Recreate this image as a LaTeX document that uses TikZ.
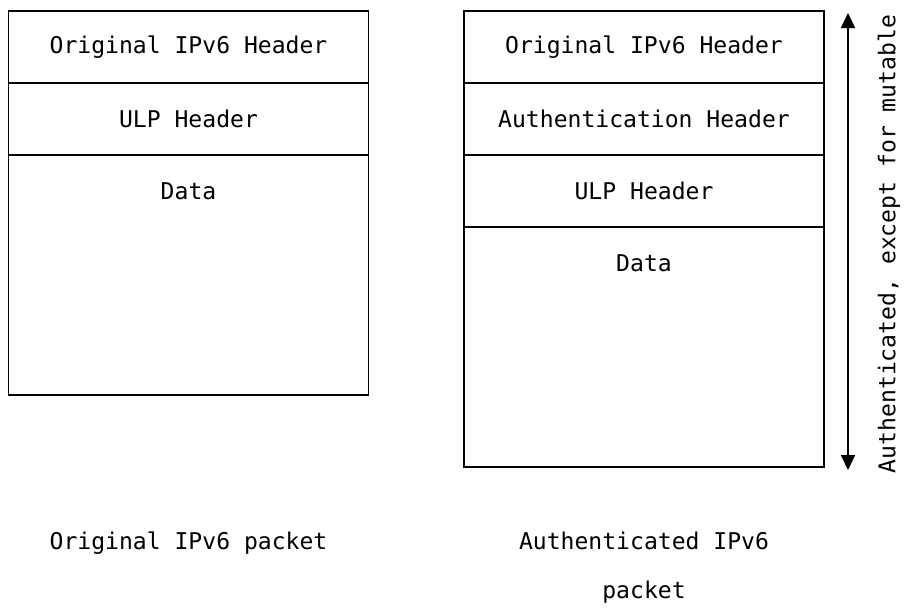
\documentclass[tikz,border=0pt]{standalone}
\usepackage{fontspec}
\setmonofont{DejaVu Sans Mono}
\newcommand{\pktfont}{\ttfamily\fontsize{16.4}{34.7}\selectfont}
\usetikzlibrary{arrows.meta, positioning}
\tikzset{
  cell/.style={draw, line width=1.2pt, minimum width=9cm, minimum height=1.8cm, inner sep=0pt, outer sep=0pt, font=\pktfont},
  databox/.style={cell, minimum height=6cm},
  caption/.style={align=center, font=\pktfont},
  span/.style={{Triangle[length=0.375cm, width=0.35cm]}-{Triangle[length=0.375cm, width=0.35cm]}, line width=1.5pt}
}

\begin{document}
\begin{tikzpicture}[x=0.025cm, y=-0.025cm]
\useasboundingbox (0,0) rectangle (905,608);

% original packet
\node[cell] (l1) at (188.5,47) {Original IPv6 Header};
\node[cell, below=0pt of l1] (l2) {ULP Header};
\node[databox, below=0pt of l2, label={[anchor=center, yshift=-0.9cm, font=\pktfont]north:Data}] (l3) {};

% authenticated packet
\node[cell] (r1) at (644,47) {Original IPv6 Header};
\node[cell, below=0pt of r1] (r2) {Authentication Header};
\node[cell, below=0pt of r2] (r3) {ULP Header};
\node[databox, below=0pt of r3, label={[anchor=center, yshift=-0.9cm, font=\pktfont]north:Data}] (r4) {};

% authenticated span
\coordinate (atop) at (848,13);
\coordinate (abot) at (848,470);
\draw[span] (abot) -- (atop);
\node[font=\pktfont, rotate=90] (scope) at (889,244) {Authenticated, except for mutable};

\node[caption] (lcap) at (188.5,543) {Original IPv6 packet};
\node[caption] (rcap) at (644,567.5) {Authenticated IPv6\\packet};
\end{tikzpicture}
\end{document}
